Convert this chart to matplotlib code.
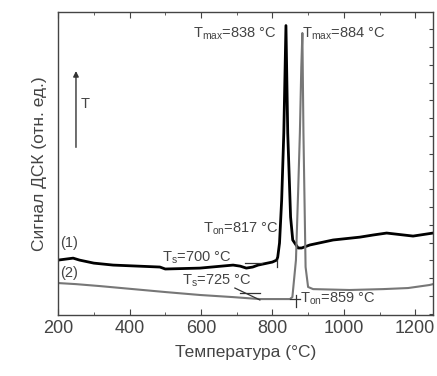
import numpy as np
import matplotlib.pyplot as plt
from matplotlib.ticker import MultipleLocator

plt.rcParams['font.family'] = ['Liberation Sans', 'DejaVu Sans']
plt.rcParams['mathtext.fontset'] = 'custom'
plt.rcParams['mathtext.rm'] = 'Liberation Sans'
plt.rcParams['mathtext.it'] = 'Liberation Sans:italic'

# кривая (1) - черная
t1 = [200, 242, 260, 300, 354, 485, 500, 597, 690, 710, 727, 745, 760, 800, 812,
      815, 820, 826, 832, 838, 843, 851, 857, 872, 882, 905, 970, 1045, 1082,
      1120, 1194, 1250]
s1 = [2.02, 2.13, 2.02, 1.85, 1.74, 1.63, 1.52, 1.57, 1.74, 1.68, 1.57, 1.63, 1.74,
      1.91, 2.02, 2.19, 2.98, 5.39, 9.16, 15.2, 9.16, 4.44, 3.15, 2.70, 2.70, 2.87,
      3.15, 3.31, 3.43, 3.54, 3.37, 3.54]

# кривая (2) - серая
t2 = [200, 250, 317, 410, 503, 597, 690, 765, 849, 856, 866, 872, 877, 881, 884,
      887, 893, 900, 914, 1016, 1110, 1180, 1240, 1250]
s2 = [0.73, 0.67, 0.56, 0.39, 0.22, 0.06, -0.06, -0.17, -0.17, -0.06, 2.02, 5.79,
      9.16, 12.87, 14.78, 9.16, 1.63, 0.51, 0.39, 0.34, 0.39, 0.45, 0.62, 0.67]

labels = [
    (577, 14.5, r'T$_{\mathrm{max}}$=838 °C'),
    (883, 14.5, r'T$_{\mathrm{max}}$=884 °C'),
    (605, 3.54, r'T$_{\mathrm{on}}$=817 °C'),
    (490, 1.91, r'T$_{\mathrm{s}}$=700 °C'),
    (546, 0.62, r'T$_{\mathrm{s}}$=725 °C'),
    (877, -0.39, r'T$_{\mathrm{on}}$=859 °C'),
    (205, 2.75, '(1)'),
    (205, 1.07, '(2)'),
]

fig = plt.figure(figsize=(4.37, 3.76), dpi=100)
ax = fig.add_axes([0.133, 0.162, 0.858, 0.806])

ax.plot(t1, s1, color='black', lw=2.0)
ax.plot(t2, s2, color='#777777', lw=1.5)

# касательные
ax.plot([723, 770], [1.85, 1.85], color='#333333', lw=0.9)
ax.plot([813, 813], [1.63, 2.02], color='#333333', lw=0.9)
ax.plot([695, 765], [0.45, -0.22], color='#333333', lw=0.9)
ax.plot([709, 765], [0.17, 0.17], color='#333333', lw=0.9)
ax.plot([866, 866], [-0.62, 0.06], color='#333333', lw=0.9)
ax.plot([849, 877], [-0.17, -0.17], color='#333333', lw=0.9)

for x, y, s in labels:
    ax.text(x, y, s, fontsize=10.5, color='#444444', ha='left', va='baseline')

ax.annotate('', xy=(250, 12.8), xytext=(250, 8.2),
            arrowprops=dict(arrowstyle='-|>', color='#333333', lw=1.0,
                            mutation_scale=8))
ax.text(275, 10.8, 'T', fontsize=10.5, color='#444444', ha='center', va='center')

ax.set_xlim(200, 1250)
ax.set_ylim(-1.07, 15.96)
ax.xaxis.set_major_locator(MultipleLocator(200))
ax.xaxis.set_minor_locator(MultipleLocator(100))
ax.yaxis.set_major_locator(MultipleLocator(1))
ax.tick_params(axis='x', which='both', direction='in', top=True, bottom=True,
               labelsize=13, labelcolor='#444444', color='#444444')
ax.tick_params(axis='x', which='major', length=4)
ax.tick_params(axis='x', which='minor', length=2.5)
ax.tick_params(axis='y', which='both', direction='in', left=False, right=True,
               labelleft=False, length=3, color='#444444')
for sp in ax.spines.values():
    sp.set_color('#444444')
    sp.set_linewidth(1.0)

ax.set_xlabel('Температура (°C)', fontsize=12.5, color='#444444', labelpad=6)
ax.set_ylabel('Сигнал ДСК (отн. ед.)', fontsize=12.5, color='#444444', labelpad=8)

fig.savefig('out.png', dpi=100)
